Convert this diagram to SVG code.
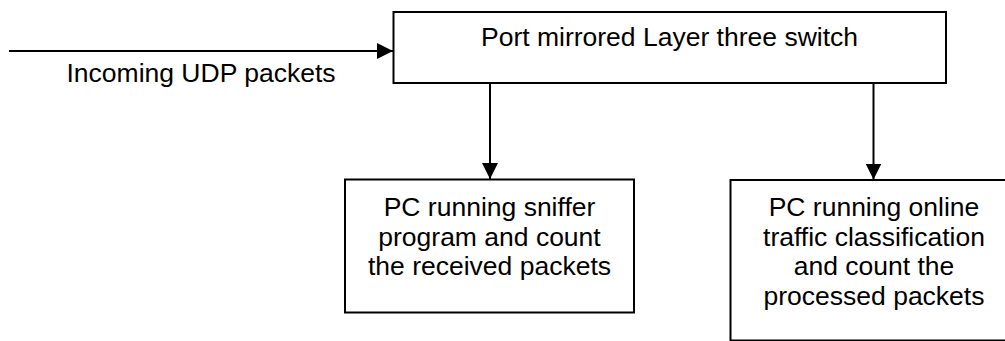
<svg xmlns="http://www.w3.org/2000/svg" width="1005" height="341" viewBox="0 0 1005 341">
<style>
.box{fill:#fff;stroke:#000;stroke-width:2}
.lbl{font-family:"Liberation Sans",Arial,sans-serif;font-size:26.5px;fill:#000;text-anchor:middle}
.con{stroke:#000;stroke-width:2;fill:none}
</style>
<defs>
<marker id="ah" markerUnits="userSpaceOnUse" markerWidth="16" markerHeight="16" viewBox="0 0 16 16" refX="16" refY="8" orient="auto">
<path d="M0,0 L16,8 L0,16 Z" fill="#000"/>
</marker>
</defs>
<rect width="1005" height="341" fill="#fff"/>
<g id="switch">
<rect class="box" x="393.5" y="12" width="552.5" height="71"/>
<text class="lbl" x="669.5" y="46">Port mirrored Layer three switch</text>
</g>
<g id="sniffer">
<rect class="box" x="345" y="179.5" width="289" height="133"/>
<text class="lbl" x="489.5" y="216">PC running sniffer</text>
<text class="lbl" x="489.5" y="245.5">program and count</text>
<text class="lbl" x="489.5" y="275">the received packets</text>
</g>
<g id="classifier">
<rect class="box" x="730.5" y="180" width="300" height="160.5"/>
<text class="lbl" x="874" y="216">PC running online</text>
<text class="lbl" x="874" y="245.5">traffic classification</text>
<text class="lbl" x="874" y="275">and count the</text>
<text class="lbl" x="874" y="304.5">processed packets</text>
</g>
<g id="input-label">
<text class="lbl" x="201" y="82">Incoming UDP packets</text>
</g>
<g id="connectors">
<line class="con" x1="9" y1="51" x2="393" y2="51" marker-end="url(#ah)"/>
<line class="con" x1="490" y1="83" x2="490" y2="179" marker-end="url(#ah)"/>
<line class="con" x1="873.5" y1="83" x2="873.5" y2="179.5" marker-end="url(#ah)"/>
</g>
</svg>
